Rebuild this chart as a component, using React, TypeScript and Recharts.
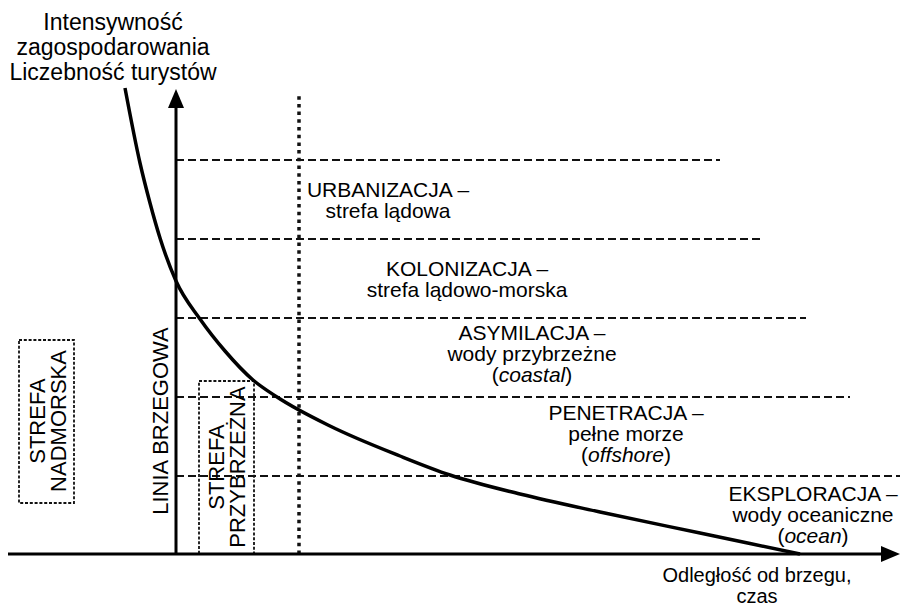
import React from 'react';
import {
  ComposedChart,
  Line,
  XAxis,
  YAxis,
  ReferenceLine,
  ReferenceArea,
  ReferenceDot,
} from 'recharts';

// Curve: intensity of development / number of tourists vs distance from shore
const curveDistance = [-51, -36, -26, -16, 0, 24, 49, 77, 101, 154, 224, 274, 344, 424, 524, 624];
const curveIntensity = [466, 391, 351, 316, 273, 235, 203, 174, 157, 128, 98, 79, 60, 42, 21, 0];

// Zone boundary levels (dashed lines) and their right ends
const levelValues = [394, 315, 236, 157, 78];
const levelEnds = [544, 586, 630, 674, 724];

// Zone labels
const zoneLabels = [
  ['URBANIZACJA –', 'strefa lądowa'],
  ['KOLONIZACJA –', 'strefa lądowo-morska'],
  ['ASYMILACJA –', 'wody przybrzeżne', '(_coastal_)'],
  ['PENETRACJA –', 'pełne morze', '(_offshore_)'],
  ['EKSPLORACJA –', 'wody oceaniczne', '(_ocean_)'],
];
const yTitle = ['Intensywność', 'zagospodarowania', 'Liczebność turystów'];
const xTitle = ['Odległość od brzegu,', 'czas'];
const sideLabels = [['STREFA', 'NADMORSKA'], ['LINIA BRZEGOWA'], ['STREFA', 'PRZYBRZEŻNA']];

const data = curveDistance.map((x, i) => ({ x, y: curveIntensity[i] }));

// annotation anchors (data coordinates)
const zoneAnchors = [
  { x: 212, y: 355 },
  { x: 291, y: 276 },
  { x: 356, y: 201 },
  { x: 450, y: 121 },
  { x: 637, y: 40 },
];
const FONT = '"Liberation Sans", Arial, Helvetica, sans-serif';

function renderParts(line: string) {
  const parts = line.split('_');
  return parts.map((p, i) => (
    <tspan key={i} fontStyle={i % 2 === 1 ? 'italic' : 'normal'}>
      {p}
    </tspan>
  ));
}

function makeBlock(lines: string[], size: number, lh: number, rotate = false) {
  return (props: any) => {
    const { cx, cy } = props;
    const n = lines.length;
    return (
      <g transform={rotate ? `rotate(-90 ${cx} ${cy})` : undefined}>
        {lines.map((l, i) => (
          <text
            key={i}
            x={cx}
            y={cy + (i - (n - 1) / 2) * lh}
            textAnchor="middle"
            dominantBaseline="central"
            fontFamily={FONT}
            fontSize={size}
            fill="#000"
          >
            {renderParts(l)}
          </text>
        ))}
      </g>
    );
  };
}

const arrowUp = (props: any) => {
  const { cx, cy } = props;
  return <polygon points={`${cx},${cy} ${cx - 8},${cy + 19} ${cx + 8},${cy + 19}`} fill="#000" />;
};
const arrowRight = (props: any) => {
  const { cx, cy } = props;
  return <polygon points={`${cx},${cy} ${cx - 19},${cy - 8} ${cx - 19},${cy + 8}`} fill="#000" />;
};

export default function App() {
  return (
    <div style={{ width: 900, height: 608, background: '#fff' }}>
      <style>{'body{margin:0;background:#fff}'}</style>
      <ComposedChart
        width={900}
        height={608}
        data={data}
        margin={{ top: 0, right: 0, bottom: 0, left: 0 }}
      >
        <XAxis dataKey="x" type="number" domain={[-176, 724]} allowDataOverflow hide />
        <YAxis type="number" domain={[-54, 554]} allowDataOverflow hide />

        {levelValues.map((v, i) => (
          <ReferenceLine
            key={'lv' + i}
            segment={[
              { x: 0, y: v },
              { x: levelEnds[i], y: v },
            ]}
            stroke="#111"
            strokeWidth={2.2}
            strokeDasharray="8 4"
            ifOverflow="visible"
          />
        ))}

        <ReferenceLine
          segment={[
            { x: 123, y: 0 },
            { x: 123, y: 462 },
          ]}
          stroke="#111"
          strokeWidth={3.5}
          strokeDasharray="3.5 4.2"
          ifOverflow="visible"
        />

        <ReferenceArea
          x1={-157}
          x2={-102}
          y1={51}
          y2={214}
          fill="none"
          stroke="#111"
          strokeWidth={1.8}
          strokeDasharray="3 1.8"
          ifOverflow="visible"
        />
        <ReferenceArea
          x1={23}
          x2={78}
          y1={0}
          y2={173}
          fill="none"
          stroke="#111"
          strokeWidth={1.8}
          strokeDasharray="3 1.8"
          ifOverflow="visible"
        />

        {/* axes */}
        <ReferenceLine
          segment={[
            { x: 0, y: 0 },
            { x: 0, y: 450 },
          ]}
          stroke="#000"
          strokeWidth={3}
          ifOverflow="visible"
        />
        <ReferenceLine
          segment={[
            { x: -168, y: 0 },
            { x: 710, y: 0 },
          ]}
          stroke="#000"
          strokeWidth={3}
          ifOverflow="visible"
        />
        <ReferenceDot x={0} y={465} r={0} shape={arrowUp} ifOverflow="visible" />
        <ReferenceDot x={724} y={0} r={0} shape={arrowRight} ifOverflow="visible" />

        <Line
          dataKey="y"
          type="monotone"
          stroke="#000"
          strokeWidth={3.5}
          dot={false}
          activeDot={false}
          isAnimationActive={false}
        />

        {zoneLabels.map((lines, i) => (
          <ReferenceDot
            key={'zl' + i}
            x={zoneAnchors[i].x}
            y={zoneAnchors[i].y}
            r={0}
            shape={makeBlock(lines, 21, 21)}
            ifOverflow="visible"
          />
        ))}
        <ReferenceDot x={-63} y={507} r={0} shape={makeBlock(yTitle, 23, 25)} ifOverflow="visible" />
        <ReferenceDot x={581} y={-31} r={0} shape={makeBlock(xTitle, 20, 21)} ifOverflow="visible" />
        <ReferenceDot x={-129} y={133} r={0} shape={makeBlock(sideLabels[0], 22, 21, true)} ifOverflow="visible" />
        <ReferenceDot x={-16} y={133} r={0} shape={makeBlock(sideLabels[1], 22, 21, true)} ifOverflow="visible" />
        <ReferenceDot x={50} y={87} r={0} shape={makeBlock(sideLabels[2], 22, 21, true)} ifOverflow="visible" />
      </ComposedChart>
    </div>
  );
}
